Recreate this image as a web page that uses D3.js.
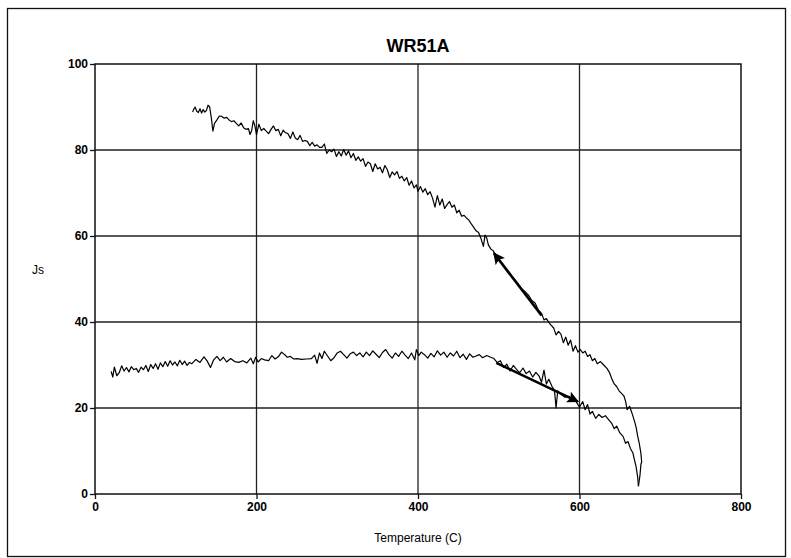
<!DOCTYPE html>
<html>
<head>
<meta charset="utf-8">
<script src="https://cdn.jsdelivr.net/npm/d3@7"></script>
<style>
  body { margin: 0; background: #fff; }
  text { font-family: "Liberation Sans", Arial, sans-serif; }
</style>
</head>
<body>
<script>
// heating run (20 C -> ~673 C)
const heatT = [20, 22, 24, 27, 30, 33, 36, 39, 42, 45, 48, 51, 54, 57, 60, 63, 66, 69, 72, 75, 78, 81, 84, 87, 90, 93, 96, 99, 102, 105, 108, 111, 114, 117, 120, 125, 130, 135, 139, 143, 147, 151, 155, 159, 163, 168, 173, 178, 183, 188, 193, 196, 199, 202, 206, 210, 215, 219, 223, 227, 231, 235, 238, 242, 246, 250, 256, 262, 268, 272, 275, 278, 281, 284, 288, 292, 296, 300, 304, 308, 312, 316, 320, 324, 328, 332, 336, 340, 344, 348, 352, 356, 360, 364, 368, 372, 376, 380, 384, 388, 392, 396, 398, 401, 404, 408, 412, 416, 420, 424, 428, 432, 436, 440, 444, 448, 452, 456, 460, 464, 468, 472, 476, 480, 485, 490, 494, 498, 502, 506, 510, 514, 518, 522, 526, 530, 534, 538, 542, 546, 550, 553, 556, 559, 562, 566, 569, 571, 573, 577, 582, 587, 592, 596, 600, 604, 607, 610, 613, 616, 620, 624, 628, 632, 636, 640, 643, 646, 650, 654, 657, 660, 663, 666, 668, 670, 672, 673]
const heatJs = [28.5, 27.2, 29.5, 27.5, 28.2, 29.8, 28.6, 29.4, 28.4, 29.6, 28.9, 29.2, 28.3, 29.5, 28.9, 29.9, 28.5, 30.1, 29.2, 30.3, 29.0, 30.5, 29.6, 30.8, 29.7, 31.0, 30.0, 30.7, 29.8, 31.1, 30.1, 30.9, 29.9, 30.6, 30.3, 31.3, 30.6, 31.9, 30.9, 29.4, 31.2, 32.0, 31.0, 31.8, 30.7, 31.5, 30.8, 30.6, 31.0, 30.5, 31.6, 30.3, 31.8, 30.7, 31.5, 31.2, 31.0, 32.2, 31.4, 31.9, 33.0, 32.4, 31.8, 32.0, 31.4, 31.5, 31.3, 31.4, 31.5, 32.3, 30.4, 32.8, 31.5, 33.2, 32.1, 31.0, 31.7, 32.8, 33.2, 32.4, 31.6, 32.6, 33.0, 32.2, 32.8, 31.9, 33.0, 32.2, 33.3, 32.5, 31.7, 32.9, 33.6, 32.4, 31.6, 32.8, 32.0, 33.2, 32.3, 31.5, 32.8, 31.2, 33.6, 32.2, 33.0, 32.4, 31.6, 32.7, 31.9, 33.3, 32.3, 33.0, 31.8, 32.8, 32.1, 33.2, 31.7, 32.5, 31.3, 32.6, 31.8, 32.1, 32.4, 31.7, 32.2, 31.8, 31.5, 30.6, 31.0, 29.4, 30.2, 28.6, 29.9, 29.0, 28.2, 29.3, 28.0, 28.6, 27.2, 28.3, 27.4, 26.0, 28.8, 25.6, 26.7, 25.0, 24.1, 20.0, 24.0, 23.2, 22.5, 22.7, 21.9, 21.4, 20.2, 21.5, 19.6, 20.8, 18.6, 19.2, 17.6, 18.5, 17.8, 18.2, 17.3, 16.4, 15.2, 15.8, 14.2, 13.4, 11.8, 12.2, 10.6, 9.6, 8.0, 6.4, 4.0, 1.8]

// cooling run (~673 C -> 121 C)
const coolT = [673, 675, 676, 677, 676, 674, 672, 670, 668, 665, 662, 659, 657, 655, 652, 649, 646, 643, 640, 637, 634, 630, 626, 622, 619, 616, 613, 610, 607, 604, 601, 598, 595, 592, 589, 586, 583, 580, 577, 574, 571, 568, 565, 562, 559, 556, 553, 549, 545, 541, 537, 533, 529, 525, 521, 517, 513, 509, 505, 501, 497, 493, 490, 487, 485, 483, 481, 478, 475, 472, 469, 466, 463, 460, 457, 454, 451, 448, 445, 442, 439, 436, 433, 430, 427, 424, 421, 418, 415, 412, 409, 406, 403, 400, 398, 395, 392, 389, 386, 383, 380, 377, 374, 371, 368, 365, 362, 359, 356, 353, 350, 347, 344, 341, 338, 335, 332, 329, 326, 323, 320, 317, 314, 311, 308, 305, 302, 299, 296, 293, 290, 287, 284, 281, 278, 275, 272, 269, 266, 263, 260, 257, 254, 251, 248, 245, 242, 239, 236, 233, 230, 227, 224, 221, 218, 215, 212, 209, 206, 203, 200, 198, 196, 194, 192, 190, 187, 184, 181, 178, 175, 172, 169, 166, 163, 160, 157, 154, 151, 148, 146, 144, 142, 140, 138, 136, 134, 132, 130, 128, 126, 124, 122, 121]
const coolJs = [1.8, 4.5, 6.8, 7.5, 9.5, 11.8, 13.5, 15.6, 17.0, 18.8, 20.4, 19.6, 21.6, 22.8, 23.4, 24.0, 25.0, 25.6, 26.8, 28.3, 29.2, 30.0, 30.8, 30.3, 31.5, 31.0, 32.4, 32.0, 33.2, 32.8, 33.6, 33.0, 34.5, 33.2, 35.8, 34.6, 36.5, 35.2, 37.2, 37.8, 37.0, 38.6, 39.2, 39.9, 40.8, 40.5, 42.0, 42.8, 44.4, 45.0, 46.2, 47.0, 47.6, 48.6, 49.6, 50.4, 51.5, 52.2, 53.5, 54.2, 55.2, 56.6, 57.0, 58.0, 59.6, 60.2, 57.6, 59.4, 60.8, 61.2, 62.0, 62.8, 63.7, 64.2, 64.8, 64.6, 66.0, 65.4, 67.2, 66.7, 68.0, 67.3, 66.4, 68.6, 67.2, 69.4, 66.7, 68.8, 70.3, 69.6, 71.0, 70.2, 71.5, 70.4, 71.9, 71.2, 72.8, 71.8, 73.6, 72.8, 73.9, 73.4, 75.0, 74.2, 74.9, 73.6, 75.4, 76.4, 74.7, 76.0, 75.6, 76.8, 75.0, 76.8, 77.2, 76.2, 78.0, 77.4, 78.4, 77.6, 79.2, 78.2, 79.8, 78.8, 80.1, 78.6, 79.6, 78.5, 80.2, 79.6, 80.0, 79.2, 81.4, 80.6, 80.6, 81.2, 80.9, 81.8, 81.0, 82.0, 82.2, 82.0, 83.4, 82.4, 82.8, 84.2, 82.7, 83.8, 84.0, 84.6, 83.3, 84.8, 84.5, 85.6, 84.8, 83.8, 84.4, 85.0, 84.5, 86.0, 83.6, 85.6, 86.8, 84.5, 83.6, 85.0, 84.8, 85.2, 86.3, 85.6, 86.2, 86.8, 86.6, 87.0, 87.6, 87.4, 87.8, 87.9, 87.0, 86.2, 84.4, 87.6, 90.0, 90.4, 89.2, 88.8, 89.4, 88.6, 89.6, 88.7, 89.0, 90.0, 89.4, 88.8]

// direction arrows [fromT, fromJs, toT, toJs]
const arrowCool = [553, 41.5, 494, 56]
const arrowHeat = [497, 30.5, 598, 21.5]

const xTicks = [0, 200, 400, 600, 800]
const yTicks = [0, 20, 40, 60, 80, 100]

const m = { width: 791, height: 558 }

const svg = d3.select('body').append('svg')
    .attr('width', m.width)
    .attr('height', m.height)

// outer frame
svg.append('rect')
    .attr('x', 7.5).attr('y', 8.5)
    .attr('width', 778).attr('height', 548)
    .attr('fill', 'none').attr('stroke', '#111').attr('stroke-width', 1.3)

const x = d3.scaleLinear().domain([0, 800]).range([95, 741])
const y = d3.scaleLinear().domain([0, 100]).range([494, 64])

// grid
svg.append('g').selectAll('line')
    .data(xTicks.slice(1, -1))
    .enter().append('line')
    .attr('x1', d => x(d)).attr('x2', d => x(d))
    .attr('y1', y(100)).attr('y2', y(0))
    .attr('stroke', '#222').attr('stroke-width', 1.3)

svg.append('g').selectAll('line')
    .data(yTicks.slice(1, -1))
    .enter().append('line')
    .attr('x1', x(0)).attr('x2', x(800))
    .attr('y1', d => y(d)).attr('y2', d => y(d))
    .attr('stroke', '#222').attr('stroke-width', 1.3)

svg.append('rect')
    .attr('x', x(0)).attr('y', y(100))
    .attr('width', x(800) - x(0)).attr('height', y(0) - y(100))
    .attr('fill', 'none').attr('stroke', '#111').attr('stroke-width', 1.5)

// axes
const xAxis = svg.append('g')
    .attr('transform', `translate(0,${y(0)})`)
    .call(d3.axisBottom(x).tickValues(xTicks).tickSize(5).tickPadding(3))
const yAxis = svg.append('g')
    .attr('transform', `translate(${x(0)},0)`)
    .call(d3.axisLeft(y).tickValues(yTicks).tickSize(5).tickPadding(2))

;[xAxis, yAxis].forEach(a => {
    a.select('.domain').remove()
    a.selectAll('line').attr('stroke', '#111').attr('stroke-width', 1.3)
    a.selectAll('text')
        .attr('fill', '#000')
        .style('font-size', '12px')
        .style('font-weight', 'bold')
})

// title + labels
svg.append('text')
    .attr('x', 418).attr('y', 52)
    .attr('text-anchor', 'middle')
    .style('font-size', '18px').style('font-weight', 'bold')
    .text('WR51A')

svg.append('text')
    .attr('x', 38).attr('y', 274)
    .attr('text-anchor', 'middle')
    .style('font-size', '12px')
    .text('Js')

svg.append('text')
    .attr('x', 418).attr('y', 542)
    .attr('text-anchor', 'middle')
    .style('font-size', '12px')
    .text('Temperature (C)')

// curves
const line = d3.line()
    .x(d => x(d[0]))
    .y(d => y(d[1]))

const heat = heatT.map((t, i) => [t, heatJs[i]])
const cool = coolT.map((t, i) => [t, coolJs[i]])

svg.append('path')
    .attr('d', line(heat))
    .attr('fill', 'none').attr('stroke', '#000').attr('stroke-width', 1.2)
    .attr('stroke-linejoin', 'round')

svg.append('path')
    .attr('d', line(cool))
    .attr('fill', 'none').attr('stroke', '#000').attr('stroke-width', 1.2)
    .attr('stroke-linejoin', 'round')

// arrows
svg.append('defs').append('marker')
    .attr('id', 'head')
    .attr('viewBox', '0 0 10 10')
    .attr('refX', 9).attr('refY', 5)
    .attr('markerWidth', 5).attr('markerHeight', 4.5)
    .attr('orient', 'auto')
  .append('path')
    .attr('d', 'M0,0L10,5L0,10L2,5Z')
    .attr('fill', '#000')

;[arrowCool, arrowHeat].forEach(a => {
    svg.append('line')
        .attr('x1', x(a[0])).attr('y1', y(a[1]))
        .attr('x2', x(a[2])).attr('y2', y(a[3]))
        .attr('stroke', '#000').attr('stroke-width', 2.6)
        .attr('marker-end', 'url(#head)')
})
</script>
</body>
</html>
